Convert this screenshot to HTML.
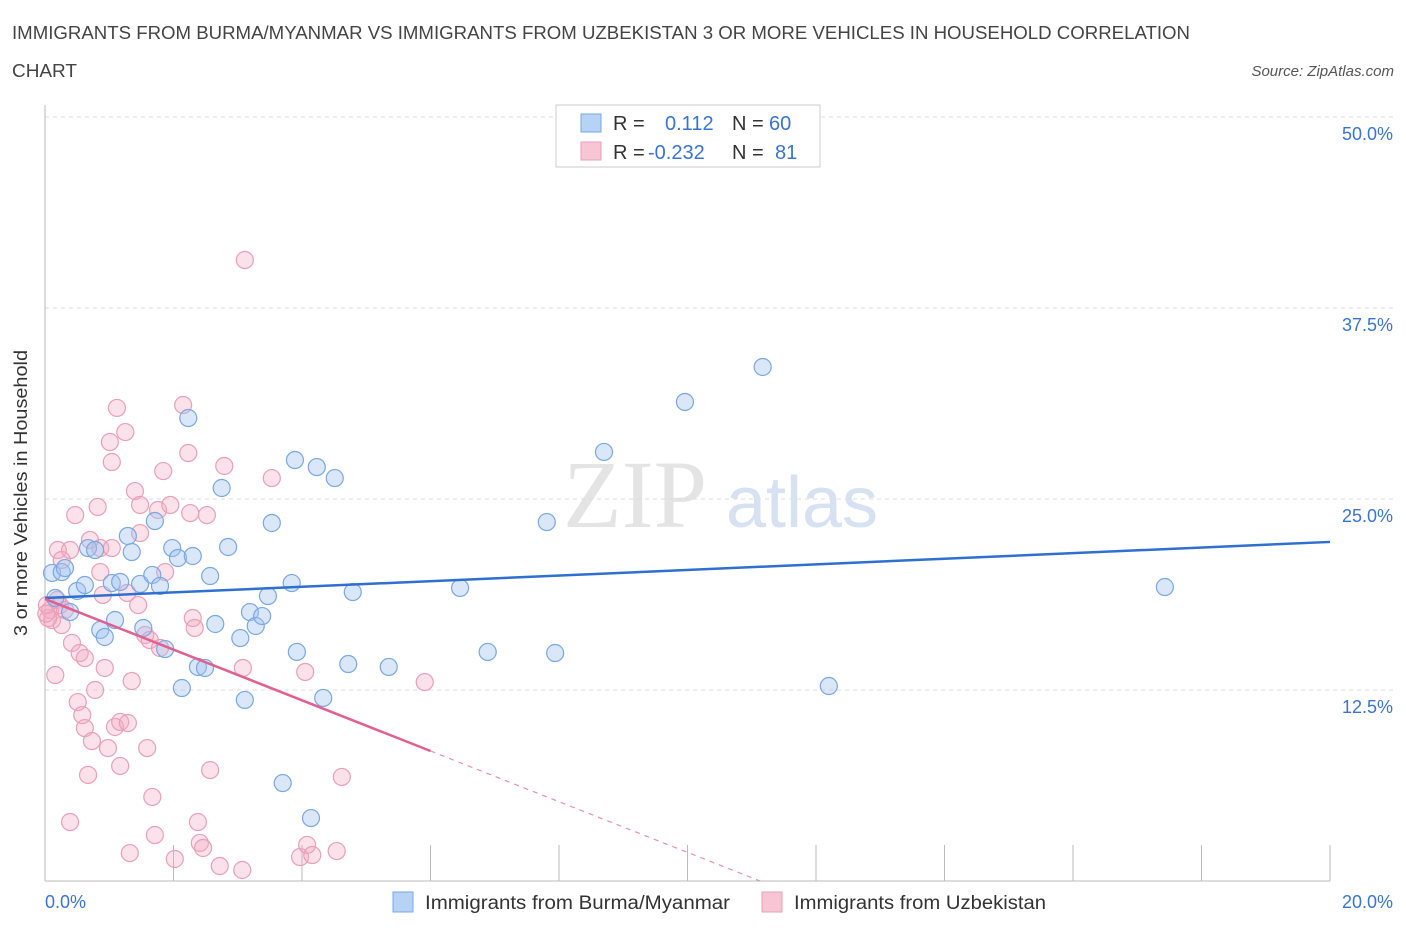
<!DOCTYPE html>
<html><head><meta charset="utf-8">
<style>
body{margin:0;background:#fff;font-family:"Liberation Sans",sans-serif;}
svg{display:block}
</style></head>
<body>
<svg id="chart" width="1406" height="930" viewBox="0 0 1406 930">
<text x="12" y="39" font-size="18" fill="#444" textLength="1178" lengthAdjust="spacingAndGlyphs">IMMIGRANTS FROM BURMA/MYANMAR VS IMMIGRANTS FROM UZBEKISTAN 3 OR MORE VEHICLES IN HOUSEHOLD CORRELATION</text>
<text x="12" y="77" font-size="18" fill="#444" textLength="65" lengthAdjust="spacingAndGlyphs">CHART</text>
<text x="1394" y="76" font-size="15" fill="#555" font-style="italic" text-anchor="end">Source: ZipAtlas.com</text>
<g>
<text x="635" y="527" font-size="96" fill="#e4e4e4" font-family="Liberation Serif,serif" text-anchor="middle">ZIP</text>
<text x="802" y="527" font-size="72" fill="#d6e2f2" text-anchor="middle">atlas</text>
</g>
<g id="grid"></g>
<g id="axes"></g>
<g id="pts"></g>
<g id="lines"></g>
<g>
<rect x="556" y="105" width="264" height="62" fill="#fff" stroke="#ccc"/>
<rect x="581" y="114" width="20" height="18" fill="#b6d2f5" stroke="#7aa8e0"/>
<rect x="581" y="142" width="20" height="18" fill="#f8c5d5" stroke="#e8a0b8"/>
<text x="613" y="130" font-size="20" fill="#333">R =</text>
<text x="665" y="130" font-size="20" fill="#3a74d0">0.112</text>
<text x="732" y="130" font-size="20" fill="#333">N =</text>
<text x="769" y="130" font-size="20" fill="#3a74d0">60</text>
<text x="613" y="159" font-size="20" fill="#333">R =</text>
<text x="648" y="159" font-size="20" fill="#3a74d0">-0.232</text>
<text x="732" y="159" font-size="20" fill="#333">N =</text>
<text x="775" y="159" font-size="20" fill="#3a74d0">81</text>
</g>
<g>
<rect x="393" y="892" width="20" height="20" fill="#b6d2f5" stroke="#7aa8e0"/>
<text x="425" y="909" font-size="19" fill="#333" textLength="305" lengthAdjust="spacingAndGlyphs">Immigrants from Burma/Myanmar</text>
<rect x="762" y="892" width="20" height="20" fill="#f8c5d5" stroke="#e8a0b8"/>
<text x="794" y="909" font-size="19" fill="#333" textLength="252" lengthAdjust="spacingAndGlyphs">Immigrants from Uzbekistan</text>
</g>
<text x="27" y="493" font-size="18" fill="#333" text-anchor="middle" textLength="286" lengthAdjust="spacingAndGlyphs" transform="rotate(-90 27 493)">3 or more Vehicles in Household</text>
</svg>
<script>
const yTicks=[12.5,25,37.5,50];
const yTickLabels=["12.5%","25.0%","37.5%","50.0%"];
const xTickLabels=["0.0%","20.0%"];
const blueX=[0.11,0.26,0.31,0.16,0.39,0.50,0.62,0.67,0.78,0.86,0.93,1.04,1.09,1.17,1.29,1.35,1.48,1.53,1.71,1.67,1.79,1.87,1.98,2.07,2.13,2.23,2.30,2.38,2.49,2.57,2.65,2.75,2.85,3.04,3.11,3.19,3.28,3.38,3.47,3.53,3.70,3.84,3.89,3.92,4.14,4.23,4.33,4.51,4.72,4.79,5.35,6.46,6.89,7.81,7.94,8.70,9.96,11.17,12.20,17.43];
const blueY=[20.16,20.22,20.48,18.52,17.60,18.98,19.37,21.79,21.66,16.43,15.97,19.50,17.08,19.57,22.58,21.53,19.44,16.56,23.56,20.03,19.31,15.18,21.79,21.14,12.63,30.30,21.27,14.01,13.94,19.96,16.82,25.72,21.86,15.90,11.85,17.60,16.69,17.34,18.65,23.43,6.41,19.50,27.55,14.99,4.12,27.09,11.98,26.37,14.20,18.91,14.01,19.18,14.99,23.49,14.92,28.08,31.35,33.64,12.76,19.24];
const pinkX=[0.08,0.11,0.16,0.19,0.23,0.26,0.31,0.20,0.26,0.39,0.39,0.42,0.47,0.51,0.54,0.58,0.62,0.62,0.67,0.70,0.73,0.78,0.82,0.86,0.86,0.90,0.93,0.98,1.01,1.04,1.09,1.12,1.17,1.17,1.25,1.28,1.29,1.32,1.35,1.40,1.45,1.48,1.56,1.59,1.63,1.67,1.71,1.76,1.79,1.84,1.87,1.95,2.02,2.15,2.23,2.30,2.33,2.38,2.41,2.46,2.52,2.57,2.72,2.79,3.07,3.11,3.08,3.53,3.97,4.05,4.08,4.16,4.54,4.62,5.91,0.05,0.03,2.26,1.48,1.04,0.02];
const pinkY=[17.74,17.08,13.48,18.39,18.06,16.75,17.74,21.66,21.01,21.66,3.86,15.58,23.95,11.71,14.92,10.86,10.01,14.59,6.94,22.32,9.16,12.50,24.48,20.22,21.79,18.72,13.94,8.70,28.73,27.42,10.08,30.96,7.53,10.41,29.38,18.85,10.34,1.83,13.09,25.52,18.06,24.61,16.10,8.70,15.77,5.50,3.01,24.28,15.25,26.83,20.22,24.61,1.44,31.15,28.01,17.21,16.56,3.86,2.49,2.16,23.95,7.26,0.98,27.16,0.72,40.64,13.94,26.37,1.57,13.68,2.36,1.70,1.96,6.81,13.02,17.21,18.06,24.08,22.77,21.79,17.5];
const blueTrend=[18.52,22.19];
const pinkTrend=[18.46,0];
const pinkSolidEnd=6.0, pinkZeroX=11.13;

const NS="http://www.w3.org/2000/svg";
const X0=45,X1=1330,Y0=881,Ytop=117;
const sx=v=>X0+(v/20)*(X1-X0);
const sy=v=>Y0-(v/50)*(Y0-Ytop);
function mk(tag,attrs,parent){const e=document.createElementNS(NS,tag);for(const k in attrs)e.setAttribute(k,attrs[k]);document.getElementById(parent).appendChild(e);return e;}
yTicks.forEach((t,i)=>{
 const g=mk('line',{x1:X0,x2:1394,y1:sy(t),y2:sy(t),stroke:'#ddd','stroke-dasharray':'4,4'},'grid');
 
 
 const l=mk('text',{x:1393,y:sy(t)+23,'font-size':18,fill:'#3a74d0','text-anchor':'end'},'axes');
 l.textContent=yTickLabels[i];
 
 
});
const ya=mk('line',{x1:X0,x2:X0,y1:105,y2:Y0,stroke:'#bbb'},'axes');


const xa=mk('line',{x1:X0,x2:X1,y1:Y0,y2:Y0,stroke:'#bbb'},'axes');


for(let i=0;i<=10;i++){
 const t=mk('line',{x1:sx(i*2),x2:sx(i*2),y1:845,y2:Y0,stroke:'#bbb'},'axes');
 
 
}
[[0,'start',45],[20,'end',1393]].forEach((a,i)=>{
 const l=mk('text',{x:a[2],y:908,'font-size':18,fill:'#3a74d0','text-anchor':a[1]},'axes');
 l.textContent=xTickLabels[i];
 
 
});
pinkX.forEach((v,i)=>{
 const c=mk('circle',{cx:sx(v),cy:sy(pinkY[i]),r:8.5,fill:'rgba(244,170,195,0.35)',stroke:'#e8a0b8','stroke-width':1.2},'pts');
 
 
});
blueX.forEach((v,i)=>{
 const c=mk('circle',{cx:sx(v),cy:sy(blueY[i]),r:8.5,fill:'rgba(160,196,240,0.4)',stroke:'#7aa8e0','stroke-width':1.2},'pts');
 
 
});
const bl=mk('line',{x1:sx(0),y1:sy(blueTrend[0]),x2:sx(20),y2:sy(blueTrend[1]),stroke:'#2f6fd0','stroke-width':2.5},'lines');


const py=x=>pinkTrend[0]+(pinkTrend[1]-pinkTrend[0])*(x/pinkZeroX);
const pl=mk('line',{x1:sx(0),y1:sy(py(0)),x2:sx(pinkSolidEnd),y2:sy(py(pinkSolidEnd)),stroke:'#e0608f','stroke-width':2.5},'lines');


const pd=mk('line',{x1:sx(pinkSolidEnd),y1:sy(py(pinkSolidEnd)),x2:sx(pinkZeroX),y2:sy(0),stroke:'#e890b0','stroke-width':1.2,'stroke-dasharray':'5,5'},'lines');


</script>
</body></html>
